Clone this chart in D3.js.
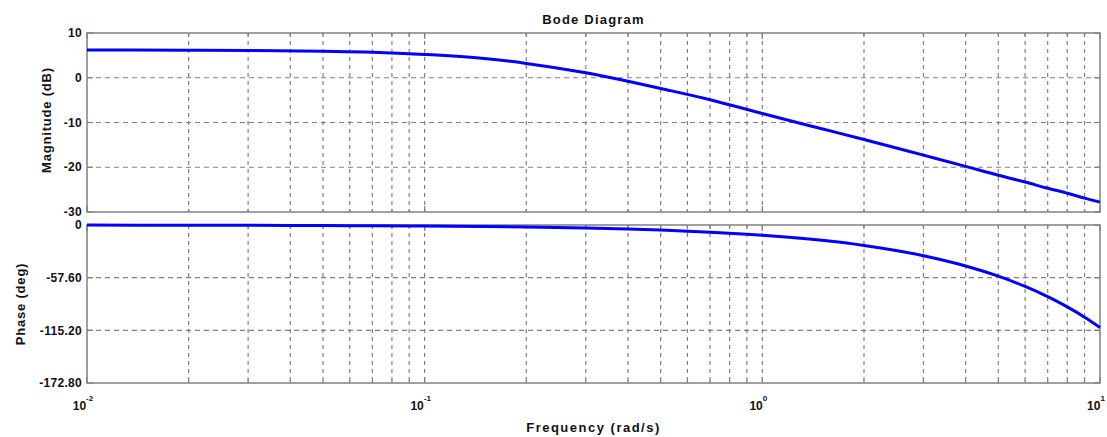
<!DOCTYPE html>
<html>
<head>
<meta charset="utf-8">
<script src="https://cdn.jsdelivr.net/npm/d3@7"></script>
<style>
  html, body { margin: 0; padding: 0; background: #fff; }
  svg { display: block; }
  text { font-family: "Liberation Sans", Arial, sans-serif; font-weight: bold; fill: #111; }
</style>
</head>
<body>
<svg id="chart" width="1107" height="437"></svg>
<script>
// Frequency samples (rad/s) and the response read at each one
const freq = [0.01, 0.02, 0.03, 0.05, 0.07, 0.1, 0.15, 0.2, 0.3, 0.4, 0.5, 0.7, 1, 1.5, 2, 3, 4, 5, 6, 7, 8, 9, 10];
const magnitudeDb = [6.2, 6.16, 6.1, 5.9, 5.7, 5.2, 4.3, 3.2, 1.1, -0.8, -2.4, -4.9, -8.0, -11.4, -13.8, -17.3, -19.8, -21.8, -23.3, -24.7, -25.8, -26.9, -27.8];
const phaseDeg = [-0.1, -0.2, -0.3, -0.6, -0.8, -1.1, -1.7, -2.2, -3.4, -4.5, -5.6, -7.8, -11.2, -16.8, -22.4, -33.6, -44.8, -56.0, -67.2, -78.4, -89.6, -100.8, -112.0];

// Axis ticks
const magTicks = [10, 0, -10, -20, -30];
const magTickLabels = ["10", "0", "-10", "-20", "-30"];
const phaseTicks = [0, -57.6, -115.2, -172.8];
const phaseTickLabels = ["0", "-57.60", "-115.20", "-172.80"];
const decadeExponents = [-2, -1, 0, 1];

const titleText = "Bode Diagram";
const xLabelText = "Frequency (rad/s)";
const magLabelText = "Magnitude (dB)";
const phaseLabelText = "Phase (deg)";

const svg = d3.select("#chart");
const left = 87, right = 1100;
const magTop = 33, magBottom = 212;
const phTop = 225, phBottom = 383;

const x = d3.scaleLog().domain([0.01, 10]).range([left, right]);
const yMag = d3.scaleLinear().domain([-30, 10]).range([magBottom, magTop]);
const yPh = d3.scaleLinear().domain([-172.8, 0]).range([phBottom, phTop]);

// grid frequencies: 1..9 times each decade
const gridFreqs = [];
decadeExponents.slice(0, 3).forEach(e => {
  for (let k = 1; k <= 9; k++) gridFreqs.push(k * Math.pow(10, e));
});
gridFreqs.push(10);

const gridColor = "#808080";

function drawPanel(yScale, ticks, labels, top, bottom) {
  const g = svg.append("g");
  // vertical grid
  g.selectAll(".vg").data(gridFreqs.filter(f => f > 0.01 && f < 10)).enter()
    .append("line")
    .attr("x1", d => x(d)).attr("x2", d => x(d))
    .attr("y1", top).attr("y2", bottom)
    .attr("stroke", gridColor).attr("stroke-width", 1.2)
    .attr("stroke-dasharray", "4,4");
  // horizontal grid
  g.selectAll(".hg").data(ticks.filter(t => yScale(t) > top + 1 && yScale(t) < bottom - 1)).enter()
    .append("line")
    .attr("x1", left).attr("x2", right)
    .attr("y1", d => yScale(d)).attr("y2", d => yScale(d))
    .attr("stroke", gridColor).attr("stroke-width", 1.2)
    .attr("stroke-dasharray", "5,4");
  // inward ticks on frame
  g.selectAll(".xt").data(gridFreqs).enter().append("g").each(function(d) {
    const isMajor = Math.abs(Math.log10(d) - Math.round(Math.log10(d))) < 1e-9;
    const len = isMajor ? 6 : 3;
    d3.select(this).append("line")
      .attr("x1", x(d)).attr("x2", x(d)).attr("y1", top).attr("y2", top + len)
      .attr("stroke", gridColor).attr("stroke-width", 1.2);
    d3.select(this).append("line")
      .attr("x1", x(d)).attr("x2", x(d)).attr("y1", bottom).attr("y2", bottom - len)
      .attr("stroke", gridColor).attr("stroke-width", 1.2);
  });
  ticks.forEach(t => {
    g.append("line").attr("x1", left).attr("x2", left + 6)
      .attr("y1", yScale(t)).attr("y2", yScale(t)).attr("stroke", gridColor).attr("stroke-width", 1.2);
    g.append("line").attr("x1", right).attr("x2", right - 6)
      .attr("y1", yScale(t)).attr("y2", yScale(t)).attr("stroke", gridColor).attr("stroke-width", 1.2);
  });
  // frame
  g.append("rect")
    .attr("x", left).attr("y", top)
    .attr("width", right - left).attr("height", bottom - top)
    .attr("fill", "none").attr("stroke", gridColor).attr("stroke-width", 1.5);
  // y tick labels
  g.selectAll(".yl").data(ticks).enter().append("text")
    .attr("x", left - 5).attr("y", d => yScale(d))
    .attr("dy", "0.35em")
    .attr("text-anchor", "end")
    .attr("font-size", 12)
    .attr("letter-spacing", 0.3)
    .text((d, i) => labels[i]);
  return g;
}

drawPanel(yMag, magTicks, magTickLabels, magTop, magBottom);
drawPanel(yPh, phaseTicks, phaseTickLabels, phTop, phBottom);

// response curves
const line = (yScale, vals) => d3.line()
  .x((d, i) => x(freq[i]))
  .y((d, i) => yScale(vals[i]))
  .curve(d3.curveMonotoneX);

svg.append("path").datum(magnitudeDb)
  .attr("d", line(yMag, magnitudeDb))
  .attr("fill", "none").attr("stroke", "#0000ff").attr("stroke-width", 3);

svg.append("path").datum(phaseDeg)
  .attr("d", line(yPh, phaseDeg))
  .attr("fill", "none").attr("stroke", "#0000ff").attr("stroke-width", 3);

// x decade labels: 10 with superscript exponent
decadeExponents.forEach(e => {
  const t = svg.append("text")
    .attr("x", x(Math.pow(10, e)) - 4)
    .attr("y", 410)
    .attr("text-anchor", "middle")
    .attr("font-size", 12);
  t.append("tspan").text("10");
  t.append("tspan").attr("dy", -9).attr("font-size", 8).text(String(e));
});

// titles
svg.append("text").attr("x", (left + right) / 2).attr("y", 24)
  .attr("text-anchor", "middle").attr("font-size", 13).attr("letter-spacing", 1.2).text(titleText);
svg.append("text").attr("x", (left + right) / 2).attr("y", 432)
  .attr("text-anchor", "middle").attr("font-size", 13).attr("letter-spacing", 1.5).text(xLabelText);
svg.append("text")
  .attr("transform", "translate(51,120) rotate(-90)")
  .attr("text-anchor", "middle").attr("font-size", 13).attr("letter-spacing", 0.8).text(magLabelText);
svg.append("text")
  .attr("transform", "translate(25,304) rotate(-90)")
  .attr("text-anchor", "middle").attr("font-size", 13).attr("letter-spacing", 0.8).text(phaseLabelText);
</script>
</body>
</html>
